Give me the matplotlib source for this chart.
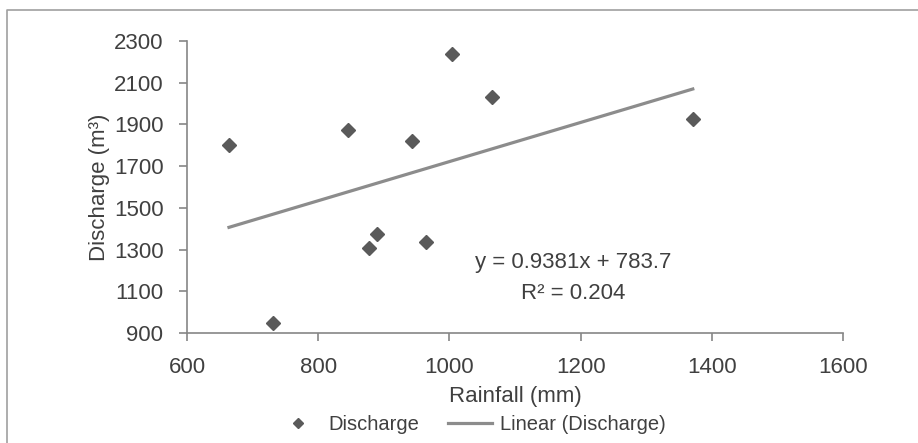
import numpy as np
import matplotlib
matplotlib.use('Agg')
import matplotlib.pyplot as plt
from matplotlib.lines import Line2D

plt.rcParams['font.family'] = ['Liberation Sans', 'DejaVu Sans']

# rainfall (mm) vs discharge (m3)
rainfall = [664, 731, 846, 877, 890, 943, 965, 1004, 1065, 1371]
discharge = [1800, 946, 1873, 1306, 1375, 1821, 1338, 2238, 2033, 1926]

# linear trendline as reported
slope = 0.9381
intercept = 783.7
r2 = 0.204

text_col = '#404040'
axis_col = '#868686'

fig = plt.figure(figsize=(9.18, 4.43), dpi=100)
ax = fig.add_axes([187/918, 1-333/443, (843-187)/918, (333-41)/443])

ax.plot(rainfall, discharge, linestyle='none', marker='D', markersize=7,
        color='#5a5a5a', label='Discharge')

xs = np.array([min(rainfall), max(rainfall)])
ax.plot(xs, slope*xs + intercept, color='#8c8c8c', linewidth=2.3,
        label='Linear (Discharge)')

ax.set_xlim(600, 1600)
ax.set_ylim(900, 2300)
ax.set_xticks(range(600, 1601, 200))
ax.set_yticks(range(900, 2301, 200))

for side in ['top', 'right']:
    ax.spines[side].set_visible(False)
for side in ['left', 'bottom']:
    ax.spines[side].set_color(axis_col)
    ax.spines[side].set_linewidth(1.2)
ax.tick_params(colors=axis_col, labelcolor=text_col, labelsize=16,
               length=6, width=1.2, direction='out')
ax.tick_params(axis='y', pad=11)
ax.tick_params(axis='x', pad=11)

ax.set_xlabel('Rainfall (mm)', fontsize=16, color=text_col, labelpad=6)
ax.set_ylabel('Discharge (m³)', fontsize=16, color=text_col, labelpad=3)

eq = 'y = %.4fx + %.1f' % (slope, intercept)
ax.text(0.588, 0.240, eq, transform=ax.transAxes, ha='center', va='center',
        fontsize=16, color=text_col)
ax.text(0.588, 0.134, 'R² = %.3f' % r2, transform=ax.transAxes,
        ha='center', va='center', fontsize=16, color=text_col)

fig.legend(loc='center', bbox_to_anchor=(471/918, 1-425/443), ncol=2,
           frameon=False, fontsize=14.5, handlelength=2.2,
           handletextpad=0.4, columnspacing=1.4, labelcolor=text_col,
           markerscale=0.75)

# chart area border
fig.add_artist(Line2D([7/918, 7/918, 1.0], [0.0, 1-10/443, 1-10/443],
                      transform=fig.transFigure, color='#a0a0a0', linewidth=1.2))

fig.savefig('out.png', dpi=100)
